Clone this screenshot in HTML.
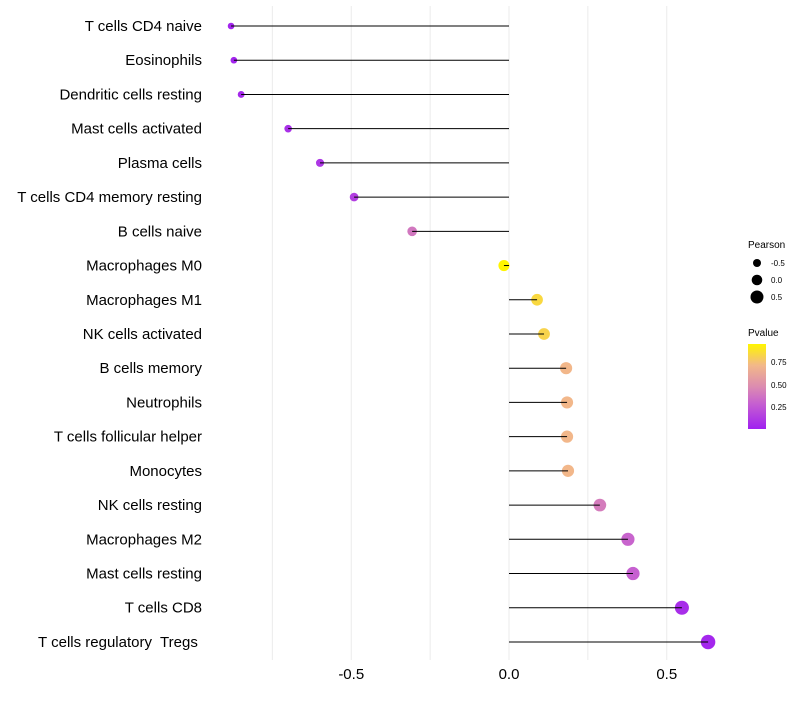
<!DOCTYPE html>
<html><head><meta charset="utf-8"><style>
body{margin:0;background:#fff;font-family:"Liberation Sans",sans-serif}
</style></head><body>
<svg id="chart" width="800" height="700" xmlns="http://www.w3.org/2000/svg">
<g id="grid"></g>
<g id="marks"></g>
<g id="ylab"></g>
<g id="xlab"></g>
<g>
<text x="748" y="248" font-size="10" fill="#000">Pearson</text>
<circle cx="757" cy="263" r="4" fill="#000"/>
<text x="771" y="266" font-size="8">-0.5</text>
<circle cx="757" cy="280" r="5.3" fill="#000"/>
<text x="771" y="283" font-size="8">0.0</text>
<circle cx="757" cy="297" r="6.5" fill="#000"/>
<text x="771" y="300" font-size="8">0.5</text>
</g>
<g>
<defs><linearGradient id="pg" x1="0" y1="1" x2="0" y2="0">
<stop offset="0" stop-color="#A020F0"/><stop offset="0.3" stop-color="#C660D0"/><stop offset="0.5" stop-color="#DC8CB0"/><stop offset="0.75" stop-color="#F2B889"/><stop offset="1" stop-color="#FFF500"/></linearGradient></defs>
<text x="748" y="336" font-size="10">Pvalue</text>
<rect x="748" y="344" width="18" height="85" fill="url(#pg)"/>
<text x="771" y="365" font-size="8">0.75</text>
<text x="771" y="388" font-size="8">0.50</text>
<text x="771" y="410" font-size="8">0.25</text>
</g>
</svg>
<script>
const categories=["T cells CD4 naive","Eosinophils","Dendritic cells resting","Mast cells activated","Plasma cells","T cells CD4 memory resting","B cells naive","Macrophages M0","Macrophages M1","NK cells activated","B cells memory","Neutrophils","T cells follicular helper","Monocytes","NK cells resting","Macrophages M2","Mast cells resting","T cells CD8","T cells regulatory  Tregs "];
const pearson=[-0.881,-0.872,-0.849,-0.700,-0.599,-0.491,-0.307,-0.016,0.089,0.111,0.181,0.184,0.184,0.187,0.288,0.377,0.393,0.548,0.631];
const pvalues=[0.04,0.04,0.06,0.09,0.12,0.15,0.40,0.96,0.85,0.83,0.72,0.72,0.72,0.72,0.42,0.32,0.30,0.08,0.05];
const xTicks=[-0.5,0.0,0.5];
const xTickLabels=["-0.5","0.0","0.5"];
const gridVals=[-0.75,-0.5,-0.25,0,0.25,0.5];
const NS="http://www.w3.org/2000/svg";
const X=v=>509+v*315.5;
const Y=i=>26+i*34.22;
const R=v=>Math.max(2,5.6+2.6*v);
const stops=[[0,[160,32,240]],[0.3,[198,96,208]],[0.5,[220,140,176]],[0.75,[242,184,137]],[1,[255,245,0]]];
function col(p){let t=(p-0.02)/(0.96-0.02);t=Math.max(0,Math.min(1,t));
for(let k=1;k<stops.length;k++){if(t<=stops[k][0]){const a=stops[k-1],b=stops[k];const f=(t-a[0])/(b[0]-a[0]);
return "rgb("+a[1].map((c,j)=>Math.round(c+(b[1][j]-c)*f)).join(",")+")";}}return "rgb(255,245,0)";}
function mk(tag,attrs,parent){const e=document.createElementNS(NS,tag);for(const k in attrs)e.setAttribute(k,attrs[k]);parent.appendChild(e);return e;}
const grid=document.getElementById('grid'),marks=document.getElementById('marks'),ylab=document.getElementById('ylab'),xlab=document.getElementById('xlab');
gridVals.forEach(g=>{const l=mk('line',{x1:X(g),x2:X(g),y1:6,y2:660,stroke:'#ebebeb','stroke-width':1},grid);

});
categories.forEach((c,i)=>{
const y=Y(i);
const pt=mk('circle',{cx:X(pearson[i]),cy:y,r:R(pearson[i]),fill:col(pvalues[i])},marks);


const ln=mk('line',{x1:X(0),x2:X(pearson[i]),y1:y,y2:y,stroke:'#000','stroke-width':1},marks);


const t=mk('text',{x:202,y:y+5,'text-anchor':'end','font-size':15,fill:'#000','style':'white-space:pre'},ylab);
t.textContent=c;


});
xTicks.forEach((v,i)=>{const t=mk('text',{x:X(v),y:679,'text-anchor':'middle','font-size':15,fill:'#000'},xlab);
t.textContent=xTickLabels[i];

});
</script>
</body></html>
